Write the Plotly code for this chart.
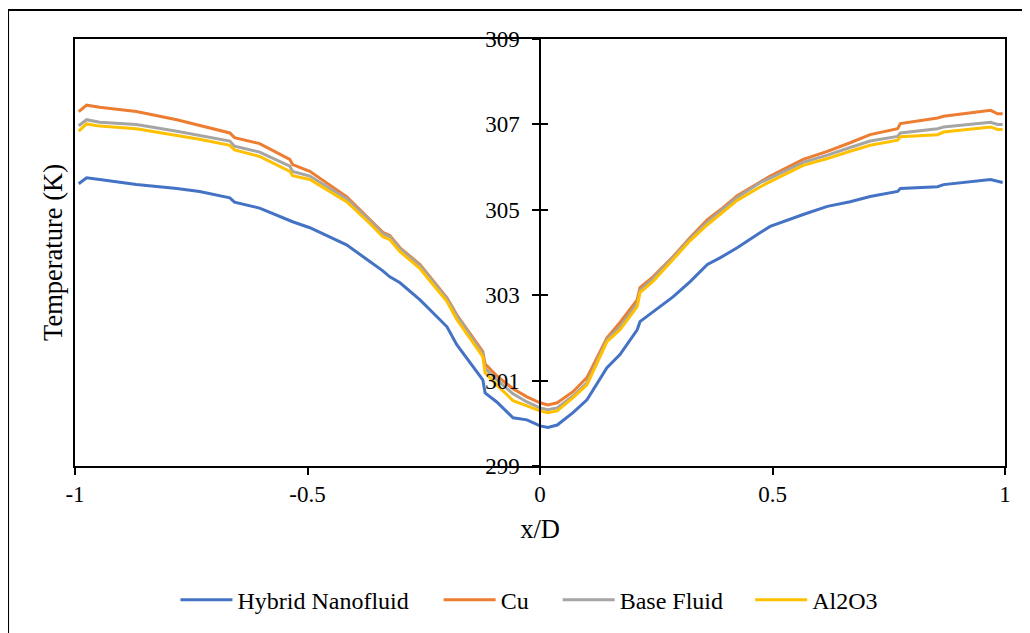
import plotly.graph_objects as go

x_over_d = [-0.992, -0.975, -0.947, -0.868, -0.781, -0.732, -0.667, -0.657, -0.603, -0.538,
            -0.532, -0.495, -0.416, -0.366, -0.338, -0.323, -0.301, -0.258, -0.200, -0.179,
            -0.123, -0.118, -0.093, -0.058, -0.028, 0.0, 0.017, 0.037, 0.071, 0.101,
            0.144, 0.172, 0.209, 0.215, 0.243, 0.286, 0.323, 0.360, 0.388, 0.424,
            0.474, 0.495, 0.566, 0.618, 0.667, 0.710, 0.769, 0.775, 0.855, 0.868,
            0.969, 0.984, 0.995]

hybrid = [305.61, 305.75, 305.71, 305.59, 305.50, 305.43, 305.28, 305.18, 305.04, 304.75,
          304.72, 304.58, 304.18, 303.79, 303.57, 303.43, 303.29, 302.89, 302.26, 301.84,
          301.02, 300.71, 300.50, 300.13, 300.08, 299.94, 299.90, 299.96, 300.25, 300.55,
          301.30, 301.61, 302.19, 302.38, 302.61, 302.96, 303.32, 303.72, 303.88, 304.11,
          304.47, 304.61, 304.89, 305.08, 305.19, 305.31, 305.43, 305.50, 305.54, 305.59,
          305.71, 305.66, 305.64]

cu = [307.30, 307.45, 307.40, 307.30, 307.11, 306.97, 306.80, 306.69, 306.55, 306.18,
      306.06, 305.90, 305.31, 304.77, 304.47, 304.40, 304.11, 303.72, 302.94, 302.54,
      301.68, 301.39, 301.11, 300.81, 300.62, 300.48, 300.43, 300.48, 300.74, 301.07,
      302.00, 302.36, 302.89, 303.18, 303.43, 303.90, 304.35, 304.77, 305.00, 305.33,
      305.66, 305.79, 306.18, 306.37, 306.57, 306.76, 306.90, 307.02, 307.15, 307.19,
      307.33, 307.25, 307.25]

base_fluid = [306.97, 307.11, 307.05, 307.00, 306.84, 306.74, 306.61, 306.49, 306.35, 306.02,
              305.90, 305.79, 305.26, 304.75, 304.44, 304.37, 304.09, 303.69, 302.92, 302.52,
              301.63, 301.28, 301.02, 300.69, 300.50, 300.36, 300.32, 300.36, 300.64, 300.95,
              301.96, 302.26, 302.80, 303.11, 303.39, 303.88, 304.32, 304.72, 304.96, 305.29,
              305.64, 305.74, 306.11, 306.28, 306.46, 306.61, 306.72, 306.80, 306.90, 306.94,
              307.05, 307.00, 307.00]

al2o3 = [306.84, 307.01, 306.96, 306.90, 306.74, 306.65, 306.51, 306.40, 306.25, 305.90,
         305.80, 305.71, 305.19, 304.68, 304.37, 304.30, 304.02, 303.62, 302.85, 302.43,
         301.56, 301.18, 300.90, 300.53, 300.41, 300.29, 300.25, 300.29, 300.60, 300.90,
         301.91, 302.19, 302.73, 303.06, 303.32, 303.83, 304.28, 304.65, 304.89, 305.22,
         305.54, 305.66, 306.04, 306.20, 306.37, 306.51, 306.63, 306.71, 306.76, 306.82,
         306.94, 306.88, 306.88]

series_names = ["Hybrid Nanofluid", "Cu", "Base Fluid", "Al2O3"]
series_colors = ["#4472C4", "#ED7D31", "#A5A5A5", "#FFC000"]
series_values = [hybrid, cu, base_fluid, al2o3]
legend_ids = ["legend", "legend2", "legend3", "legend4"]
legend_x = [0.108, 0.391, 0.519, 0.726]

x_ticks = [-1, -0.5, 0, 0.5, 1]
x_tick_text = ["-1", "-0.5", "0", "0.5", "1"]
y_ticks = [299, 301, 303, 305, 307, 309]

FONT = "Liberation Serif, Times New Roman, serif"

fig = go.Figure()
for name, color, vals, lg in zip(series_names, series_colors, series_values, legend_ids):
    fig.add_trace(go.Scatter(x=x_over_d, y=vals, mode="lines", name=name, legend=lg,
                             line=dict(color=color, width=3)))

# helper traces so that the centre axis (labels + cross ticks) gets drawn
for ax in ["y2", "y3"]:
    fig.add_trace(go.Scatter(x=[None], y=[None], yaxis=ax, showlegend=False,
                             hoverinfo="skip", mode="lines"))

legend_common = dict(orientation="h", yanchor="middle", xanchor="left", y=-0.314,
                     font=dict(family=FONT, size=24, color="black"), itemwidth=52,
                     bgcolor="rgba(0,0,0,0)")

layout_legends = {}
for lg, lx in zip(legend_ids, legend_x):
    layout_legends[lg] = dict(legend_common, x=lx)

fig.update_layout(
    width=1030, height=633,
    margin=dict(l=67, r=33, t=31, b=175),
    paper_bgcolor="white", plot_bgcolor="white",
    font=dict(family=FONT, color="black", size=22),
    showlegend=True,
    xaxis=dict(range=[-1, 1], showline=True, mirror=True, linecolor="black", linewidth=1.5,
               ticks="outside", ticklen=7, tickwidth=1.5, tickcolor="black",
               tickvals=x_ticks, ticktext=x_tick_text, showgrid=False, zeroline=False,
               tickfont=dict(size=23),
               title=dict(text="x/D", font=dict(size=26.5), standoff=13)),
    yaxis=dict(range=[299, 309], showline=True, mirror=True, linecolor="black", linewidth=1.5,
               ticks="", showticklabels=False, showgrid=False, zeroline=False,
               title=dict(text="Temperature (K)", font=dict(size=26.5), standoff=3)),
    yaxis2=dict(range=[299, 309], overlaying="y", anchor="free", position=0.5, side="left",
                showline=True, linecolor="black", linewidth=1.5,
                ticks="outside", ticklen=7, tickwidth=1.5, tickcolor="black",
                tickvals=y_ticks, showgrid=False, zeroline=False,
                tickfont=dict(size=23), ticklabelstandoff=8),
    yaxis3=dict(range=[299, 309], overlaying="y", anchor="free", position=0.5, side="left",
                showline=False, ticks="inside", ticklen=7, tickwidth=1.5, tickcolor="black",
                tickvals=y_ticks, showticklabels=False, showgrid=False, zeroline=False),
    shapes=[dict(type="rect", xref="paper", yref="paper",
                 x0=-0.072, x1=1.2, y0=-0.6, y1=1.068,
                 line=dict(color="black", width=2), fillcolor="rgba(0,0,0,0)", layer="below")],
    **layout_legends,
)

fig.write_html("out.html")
